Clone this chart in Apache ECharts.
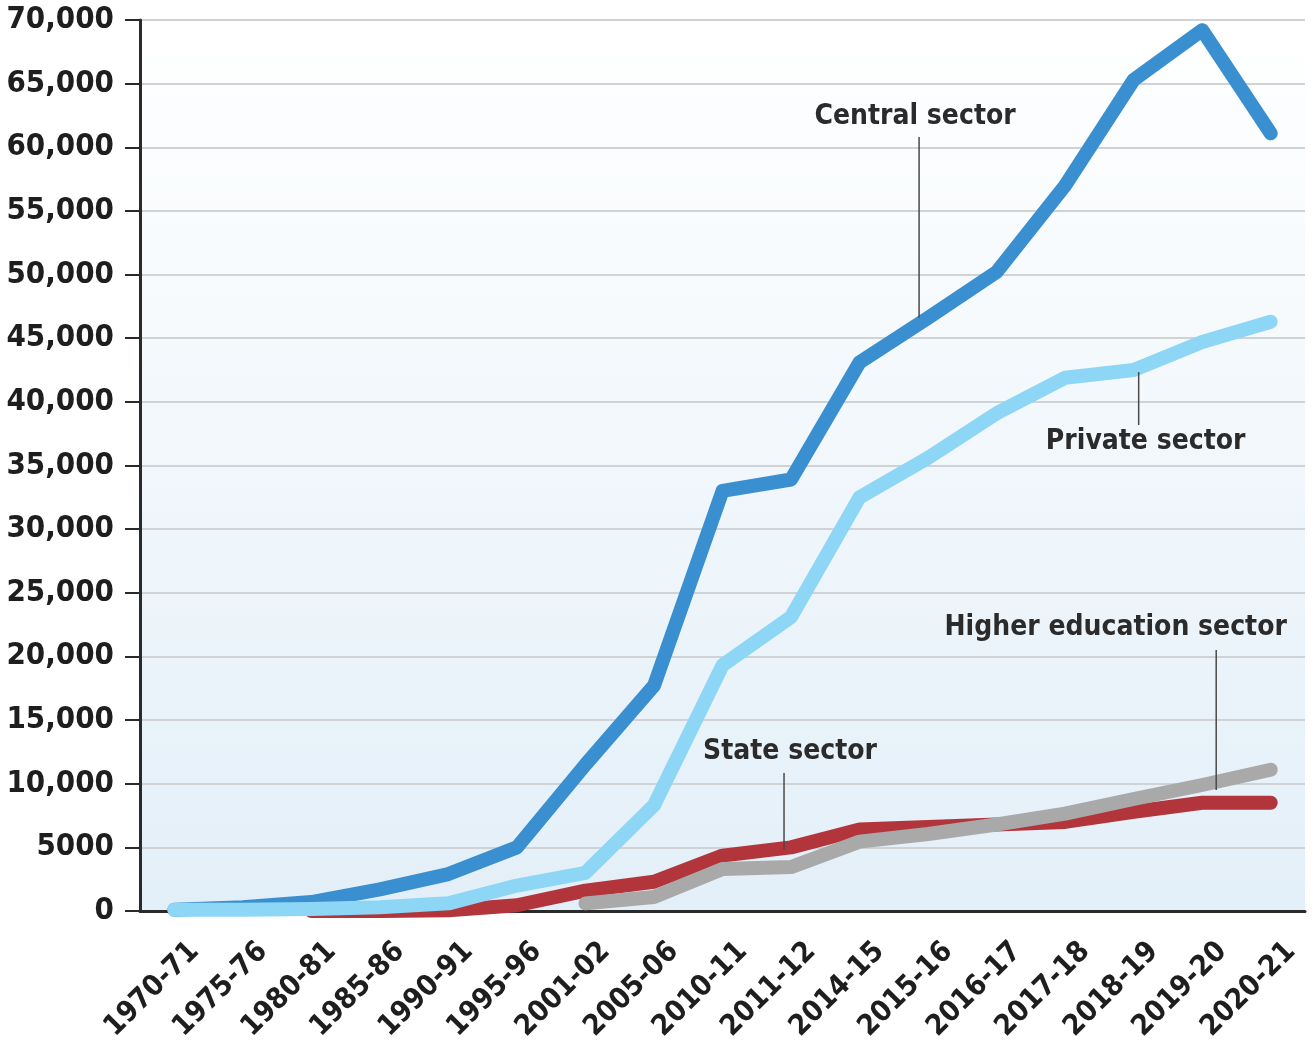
<!DOCTYPE html>
<html><head><meta charset="utf-8">
<script src="https://cdn.jsdelivr.net/npm/echarts@6/dist/echarts.min.js"></script>
<style>html,body{margin:0;padding:0;background:#fff}#c{width:1315px;height:1050px}</style>
</head><body><div id="c"></div>
<script>
const categories = ['1970-71','1975-76','1980-81','1985-86','1990-91','1995-96','2001-02','2005-06','2010-11','2011-12','2014-15','2015-16','2016-17','2017-18','2018-19','2019-20','2020-21'];
const centralSector = [100, 300, 700, 1700, 2900, 5000, 11500, 17700, 33000, 33900, 43100, 46600, 50200, 57000, 65300, 69200, 61100];
const privateSector = [100, 100, 150, 300, 600, 2000, 3000, 8300, 19300, 23100, 32500, 35600, 39100, 41900, 42500, 44700, 46300];
const stateSector = [null, null, 0, 0, 50, 450, 1600, 2300, 4350, 5000, 6400, 6600, 6800, 7000, 7800, 8500, 8500];
const higherEducationSector = [null, null, null, null, null, null, 600, 1100, 3300, 3450, 5450, 6050, 6800, 7650, 8800, 9900, 11100];
const yTicks = [0, 5000, 10000, 15000, 20000, 25000, 30000, 35000, 40000, 45000, 50000, 55000, 60000, 65000, 70000];
const yTickLabels = ['0','5000','10,000','15,000','20,000','25,000','30,000','35,000','40,000','45,000','50,000','55,000','60,000','65,000','70,000'];
// annotations: text, category for text, text value, category for leader, leader top/bottom values
const annotations = [
  {text:'Central sector', textCat:'2015-16', textDx:-13, textVal:62380, lineCat:'2015-16', lineDx:-9, lineTop:60800, lineBottom:46600},
  {text:'Private sector', textCat:'2018-19', textDx:12, textVal:36840, lineCat:'2018-19', lineDx:5, lineTop:42340, lineBottom:38180},
  {text:'Higher education sector', textCat:'2018-19', textDx:-18, textVal:22230, lineCat:'2019-20', lineDx:14, lineTop:20500, lineBottom:9500},
  {text:'State sector', textCat:'2011-12', textDx:-1, textVal:12490, lineCat:'2011-12', lineDx:-7, lineTop:10840, lineBottom:4790}
];

const FONT = '"DejaVu Sans Condensed", "DejaVu Sans", sans-serif';
const chart = echarts.init(document.getElementById('c'), null, {renderer:'canvas'});
function lineSeries(name, data, color){
  return {name, type:'line', data, symbol:'none', smooth:false, connectNulls:false,
    lineStyle:{width:14, color, cap:'round', join:'round'}, z:2};
}
chart.setOption({
  animation:false,
  backgroundColor:'#ffffff',
  grid:{left:140, right:10, top:20, bottom:139, show:true, borderWidth:0,
    backgroundColor:new echarts.graphic.LinearGradient(0,0,0,1,[{offset:0,color:'#ffffff'},{offset:1,color:'#e3eff8'}])},
  xAxis:{type:'category', data:categories, boundaryGap:true,
    axisLine:{lineStyle:{color:'#2a2a2a', width:3}},
    axisTick:{alignWithLabel:true, length:14, lineStyle:{color:'#2a2a2a', width:2}},
    axisLabel:{rotate:45, interval:0, fontSize:29, fontWeight:'bold', color:'#1e1e1e', fontFamily:FONT, margin:16,
      verticalAlign:'top', padding:[14,0,0,0]},
    splitLine:{show:false}},
  yAxis:{type:'value', min:0, max:70000, interval:5000,
    axisLine:{show:true, lineStyle:{color:'#2a2a2a', width:3}},
    axisTick:{show:true, length:15, lineStyle:{color:'#2a2a2a', width:2}},
    axisLabel:{fontSize:31, fontWeight:'bold', color:'#1e1e1e', fontFamily:FONT, margin:26,
      formatter:v => { const i = yTicks.indexOf(v); return i >= 0 ? yTickLabels[i] : ''; }},
    splitLine:{show:true, lineStyle:{color:'#cfd3d6', width:2}}},
  series:[
    lineSeries('Central sector', centralSector, '#3a8fd0'),
    lineSeries('State sector', stateSector, '#b3353c'),
    lineSeries('Higher education sector', higherEducationSector, '#a9a9a9'),
    lineSeries('Private sector', privateSector, '#8dd6f6')
  ]
});
function addAnnotations(){
  const els = [];
  annotations.forEach(a => {
    const t = chart.convertToPixel({gridIndex:0}, [a.textCat, a.textVal]);
    const p1 = chart.convertToPixel({gridIndex:0}, [a.lineCat, a.lineTop]);
    const p2 = chart.convertToPixel({gridIndex:0}, [a.lineCat, a.lineBottom]);
    els.push({type:'line', z:10, shape:{x1:p1[0]+a.lineDx, y1:p1[1], x2:p2[0]+a.lineDx, y2:p2[1]},
      style:{stroke:'#4a4a4a', lineWidth:1.5}});
    els.push({type:'text', z:11, x:t[0]+a.textDx, y:t[1],
      style:{text:a.text, fill:'#2b2b2b', font:'bold 28px ' + FONT, textAlign:'center', textVerticalAlign:'middle'}});
  });
  chart.setOption({graphic:{elements:els}});
}
addAnnotations();
</script></body></html>
